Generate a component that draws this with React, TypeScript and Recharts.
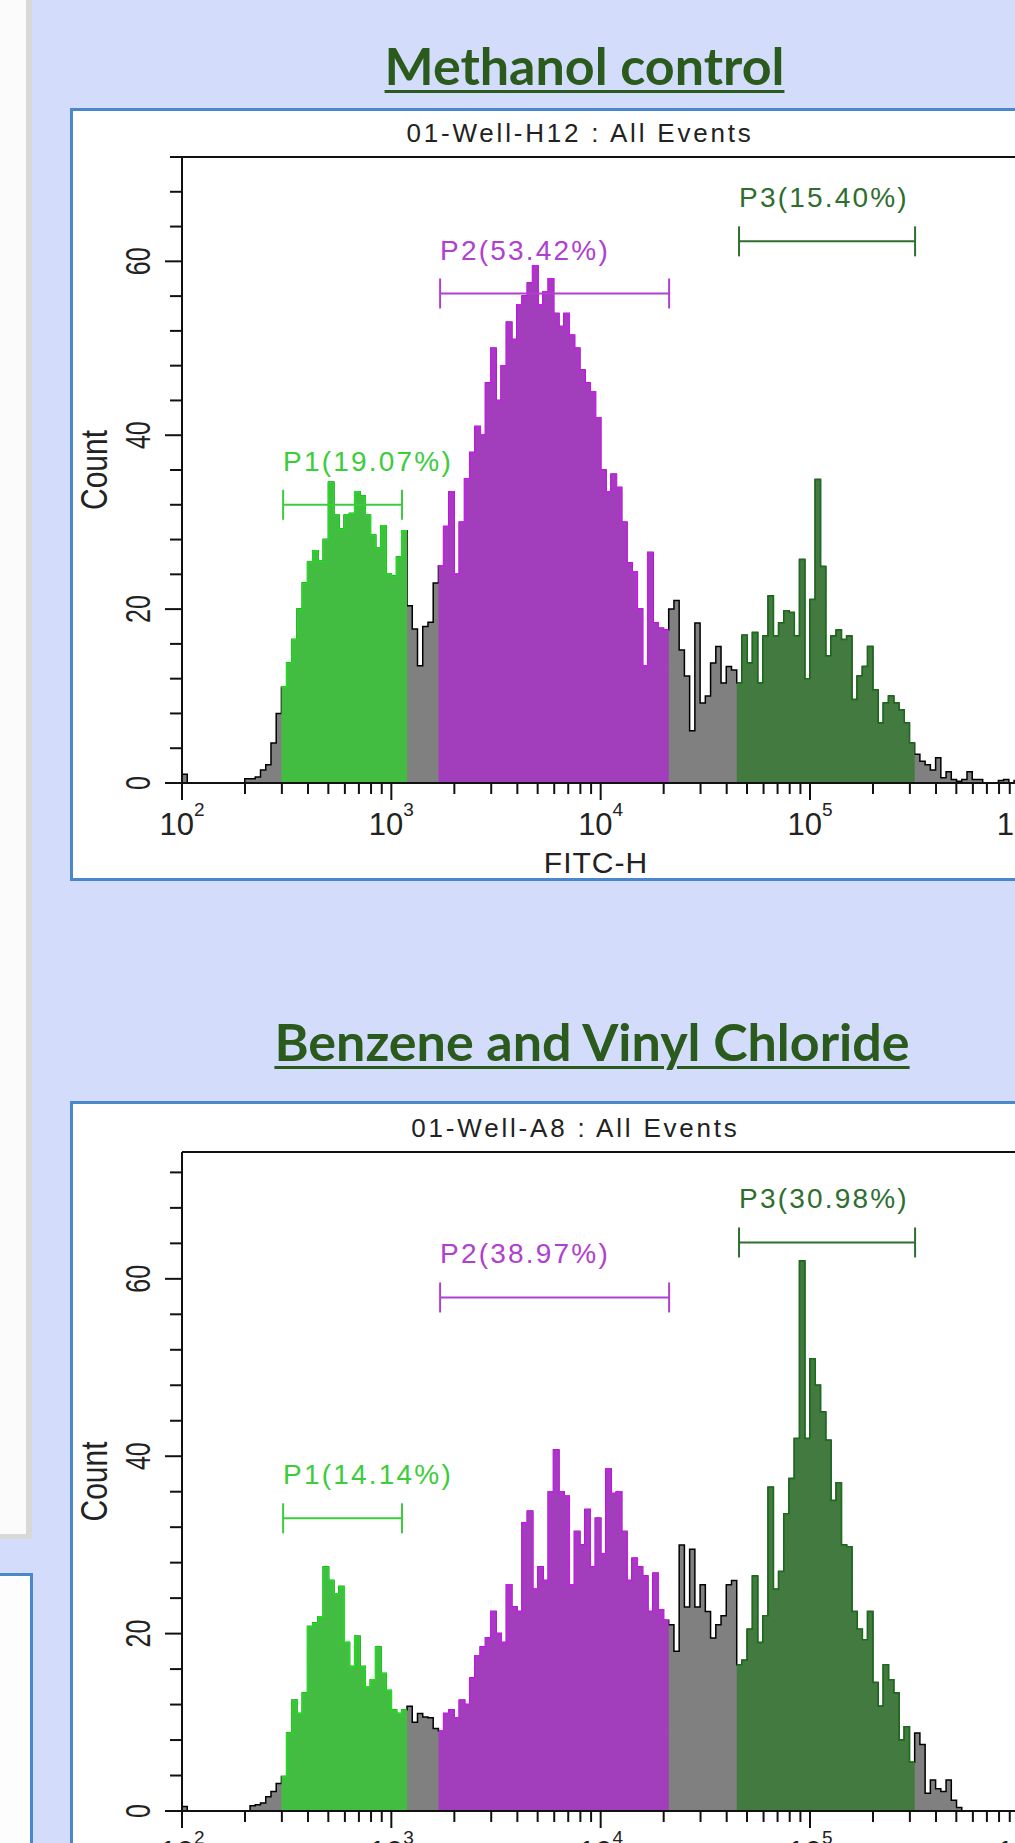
import React from "react";
import { ComposedChart, Area, XAxis, YAxis, ReferenceLine, Label } from "recharts";

// FITC-H histogram: bins of 0.025 decade, the first one starts at 10^2
const binStartLog = 2;
const binWidthLog = 0.025;

// counts per bin
const methanolCounts = [
  1, 0, 0, 0, 0, 0, 0, 0, 0, 0,
  0, 0, 0.5, 0.5, 0.7, 1.5, 2.1, 4.6, 8, 11,
  13.8, 16.5, 20, 23, 25.4, 26.7, 25.5, 28, 34.6, 30.8,
  29.2, 30.8, 31, 33.5, 33, 30.8, 28.5, 27, 29.6, 24,
  23.8, 26, 29, 20.4, 17.7, 13.5, 18, 18.5, 23, 25,
  29.5, 33.5, 24, 30, 35, 38, 41, 40, 46, 50,
  44, 48, 53, 51, 55, 56, 57.5, 59.5, 55, 56.5,
  58, 54, 52.5, 54, 51.5, 50, 47.5, 46, 45, 42,
  36, 33.5, 35.5, 34, 30, 25.3, 24.3, 20, 13.5, 26.5,
  18.4, 17.8, 17.6, 20, 21, 15.3, 12.3, 6, 18.4, 9.2,
  10, 13.8, 15.7, 11.5, 13.4, 13, 11.5, 17, 13.8, 17.3,
  11.5, 16.9, 21.5, 16.9, 18.4, 19.8, 19.6, 16.9, 25.7, 12,
  21.1, 34.9, 24.9, 14.6, 16.9, 17.6, 16.5, 16.9, 9.6, 12.3,
  13.4, 15.7, 10.7, 6.9, 9.2, 10, 9.2, 8.4, 6.9, 4.6,
  3.3, 2.5, 2.1, 1.5, 2.9, 0.6, 1.3, 0.4, 0.2, 0.4,
  1.3, 0.4, 0.4, 0, 0, 0, 0.3, 0.4, 0, 0.3,
];

const benzeneCounts = [
  0.5, 0, 0, 0, 0, 0, 0, 0, 0, 0,
  0, 0, 0, 0.6, 0.7, 0.9, 1.6, 2.2, 3.1, 3.9,
  8.8, 12.5, 11, 13.3, 20.8, 21.2, 21.9, 27.5, 26, 24.5,
  25.3, 19, 16.3, 19.7, 16.3, 14, 14.8, 18.5, 15.5, 13.6,
  11.4, 11, 11.4, 11.8, 10, 11, 10.6, 10.5, 9.3, 9,
  11, 11.4, 10.5, 12.5, 12, 15, 17.5, 18.5, 19.5, 22.5,
  20, 19, 25.5, 23, 22.5, 32.5, 33.8, 25, 27.5, 26,
  36, 40.7, 36, 35.5, 25.5, 31.5, 30, 34, 27.5, 33,
  29, 38.6, 35.8, 36, 31.5, 26, 28.5, 27.5, 26.5, 22.5,
  26.8, 22.7, 21.5, 21, 18, 30, 23, 29.5, 23, 25.5,
  22.5, 19.5, 21, 22, 25.5, 26, 16.5, 17, 20.5, 26.5,
  19, 22, 36.5, 25, 27, 33.5, 37.5, 42, 62, 42,
  51, 48, 45, 41.8, 35, 37, 30, 29.8, 22.5, 20.5,
  19.3, 22.5, 14.5, 11.8, 16.5, 14.8, 13.3, 8, 9.5, 5.5,
  8.8, 7.5, 2, 3.5, 2.5, 2.2, 3.5, 1.2, 0.4, 0,
  0, 0, 0, 0, 0, 0, 0, 0, 0, 0,
];

// gates
const gateNames = ["P1", "P2", "P3"];
const gateFirstBin = [19, 49, 106];
const gateLastBin = [42, 92, 139];
const gateFrom = [2.483, 3.233, 4.661]; // log10 FITC-H
const gateTo = [3.051, 4.327, 5.502];
const methanolPercents = ["19.07", "53.42", "15.40"];
const benzenePercents = ["14.14", "38.97", "30.98"];
const methanolGateLevel = [32, 56.3, 62.3];
const benzeneGateLevel = [33, 57.9, 64.1];

// axes
const decadeExponents = [2, 3, 4, 5, 6];
const countTicks = [0, 4, 8, 12, 16, 20, 24, 28, 32, 36, 40, 44, 48, 52, 56, 60, 64, 68, 72];
const countLabelTicks = [0, 20, 40, 60];

const gateFill = ["#42bd42", "#a23dbb", "#437a3f"];
const gateEdge = ["#1fe01f", "#cc1bef", "#1b6e1b"];
const gateText = ["#3ccc3c", "#b040d0", "#2e6e2e"];

const FONT = '"Liberation Sans", Arial, sans-serif';

const xTicks = decadeExponents.flatMap((d) =>
  d === 6 ? [6] : [1, 2, 3, 4, 5, 6, 7, 8, 9].map((m) => d + Math.log10(m))
);

function buildRows(counts: number[]) {
  const rows: any[] = counts.map((c, i) => ({ L: binStartLog + i * binWidthLog, all: c }));
  rows.push({ L: binStartLog + counts.length * binWidthLog, all: counts[counts.length - 1] });
  rows.forEach((row, i) => {
    gateNames.forEach((name, g) => {
      if (i >= gateFirstBin[g] && i <= gateLastBin[g]) row[name] = counts[i];
      else if (i === gateLastBin[g] + 1) row[name] = counts[gateLastBin[g]];
      else row[name] = null;
    });
  });
  return rows;
}

const DecadeTick = (props: any) => {
  const { x, y, payload } = props;
  const v = payload.value;
  const major = decadeExponents.some((d) => Math.abs(d - v) < 1e-6);
  return (
    <g>
      <line x1={x} x2={x} y1={y} y2={y + (major ? 17 : 11)} stroke="#111" strokeWidth={2} />
      {major && (
        <text x={x} y={y + 52} textAnchor="middle" fontSize={31} fontFamily={FONT} fill="#222">
          <tspan>10</tspan>
          <tspan dy={-19} fontSize={19}>{Math.round(v)}</tspan>
        </text>
      )}
    </g>
  );
};

const CountTick = (props: any) => {
  const { x, y, payload } = props;
  const v = payload.value;
  const major = countLabelTicks.includes(v);
  return (
    <g>
      <line x1={x - (major ? 17 : 12)} x2={x} y1={y} y2={y} stroke="#111" strokeWidth={2} />
      {major && (
        <text
          transform={`translate(${x - 32},${y}) rotate(-90) scale(1,1.4)`}
          textAnchor="middle"
          fontSize={25}
          fontFamily={FONT}
          fill="#222"
        >
          {v}
        </text>
      )}
    </g>
  );
};

const GateLabel = (props: any) => {
  const { viewBox, text, color } = props;
  if (!viewBox) return null;
  return (
    <text x={viewBox.x} y={viewBox.y - 34} fill={color} fontSize={28} fontFamily={FONT} style={{ letterSpacing: 2.2 }}>
      {text}
    </text>
  );
};

const CountLabel = (props: any) => {
  const vb = props.viewBox;
  const x = vb.x + vb.width - 75;
  const y = vb.y + vb.height / 2;
  return (
    <text transform={`translate(${x},${y}) rotate(-90) scale(1,1.2)`} textAnchor="middle" fontSize={30} fontFamily={FONT} fill="#222">
      Count
    </text>
  );
};

const FitcLabel = (props: any) => {
  const vb = props.viewBox;
  return (
    <text x={vb.x + 414} y={vb.y + 90} textAnchor="middle" fontSize={30} fontFamily={FONT} fill="#222" style={{ letterSpacing: 1 }}>
      FITC-H
    </text>
  );
};

type HistProps = {
  counts: number[];
  percents: string[];
  levels: number[];
  yMax: number;
  plotTop: number;
  plotHeight: number;
};

const FlowHistogram = ({ counts, percents, levels, yMax, plotTop, plotHeight }: HistProps) => {
  const rows = buildRows(counts);
  const width = 1140;
  const height = 157 + plotHeight + 30 + 90;
  const capHalf = (15 * yMax) / plotHeight;
  return (
    <div style={{ position: "absolute", left: 0, top: plotTop - 157, width, height }}>
      <ComposedChart width={width} height={height} data={rows} margin={{ top: 157, left: 162, right: 16, bottom: 90 }}>
        <XAxis
          type="number"
          dataKey="L"
          domain={[2, 6.5]}
          allowDataOverflow
          ticks={xTicks}
          interval={0}
          height={30}
          tickLine={false}
          tickSize={0}
          tickMargin={0}
          axisLine={{ stroke: "#111", strokeWidth: 2 }}
          tick={<DecadeTick />}
        >
          <Label content={FitcLabel} />
        </XAxis>
        <YAxis
          type="number"
          domain={[0, yMax]}
          allowDataOverflow
          ticks={countTicks}
          interval={0}
          width={20}
          tickLine={false}
          tickSize={0}
          tickMargin={0}
          axisLine={{ stroke: "#111", strokeWidth: 2 }}
          tick={<CountTick />}
        >
          <Label content={CountLabel} />
        </YAxis>
        <ReferenceLine y={yMax} stroke="#111" strokeWidth={2} ifOverflow="visible" />
        <Area
          type="stepAfter"
          dataKey="all"
          stroke="#000"
          strokeWidth={1.5}
          fill="#808080"
          fillOpacity={1}
          baseValue={0}
          dot={false}
          activeDot={false}
          isAnimationActive={false}
        />
        {gateNames.map((name, g) => (
          <Area
            key={name}
            type="stepAfter"
            dataKey={name}
            stroke={gateEdge[g]}
            strokeWidth={1.5}
            fill={gateFill[g]}
            fillOpacity={1}
            baseValue={0}
            connectNulls={false}
            dot={false}
            activeDot={false}
            isAnimationActive={false}
          />
        ))}
        {gateNames.map((name, g) => (
          <ReferenceLine
            key={name + "-bar"}
            segment={[{ x: gateFrom[g], y: levels[g] }, { x: gateTo[g], y: levels[g] }]}
            stroke={gateText[g]}
            strokeWidth={2}
            ifOverflow="visible"
            label={<GateLabel text={`${name}(${percents[g]}%)`} color={gateText[g]} />}
          />
        ))}
        {gateNames.map((name, g) => (
          <ReferenceLine
            key={name + "-left"}
            segment={[{ x: gateFrom[g], y: levels[g] - capHalf }, { x: gateFrom[g], y: levels[g] + capHalf }]}
            stroke={gateText[g]}
            strokeWidth={2}
            ifOverflow="visible"
          />
        ))}
        {gateNames.map((name, g) => (
          <ReferenceLine
            key={name + "-right"}
            segment={[{ x: gateTo[g], y: levels[g] - capHalf }, { x: gateTo[g], y: levels[g] + capHalf }]}
            stroke={gateText[g]}
            strokeWidth={2}
            ifOverflow="visible"
          />
        ))}
      </ComposedChart>
    </div>
  );
};

const slideTitle: React.CSSProperties = {
  position: "absolute",
  width: 1000,
  textAlign: "center",
  fontFamily: "Lato, sans-serif",
  fontWeight: 700,
  fontSize: 52,
  lineHeight: "52px",
  color: "#2a5a1c",
  textDecoration: "underline",
  textDecorationThickness: "3px",
  textUnderlineOffset: "5px",
  whiteSpace: "nowrap",
};

const frame: React.CSSProperties = {
  position: "absolute",
  left: 70,
  width: 1000,
  border: "3px solid #4a88cc",
  background: "#fff",
  boxSizing: "border-box",
};

export default function App() {
  return (
    <div
      style={{
        position: "fixed",
        left: 0,
        top: 0,
        width: 1015,
        height: 1843,
        overflow: "hidden",
        background: "#d3ddfb",
      }}
    >
      <div
        style={{
          position: "absolute",
          left: 0,
          top: 0,
          width: 26,
          height: 1534,
          background: "#fbfbfb",
          borderRight: "6px solid #d8d8d8",
          borderBottom: "5px solid #d8d8d8",
        }}
      />
      <div
        style={{
          position: "absolute",
          left: -10,
          top: 1573,
          width: 43,
          height: 400,
          background: "#fdfdfd",
          border: "3px solid #4a88cc",
          boxSizing: "border-box",
        }}
      />

      <div style={{ ...slideTitle, left: 84.5, top: 39 }}>Methanol control</div>
      <div style={{ ...frame, top: 108, height: 773 }} />

      <div style={{ ...slideTitle, left: 92, top: 1015 }}>Benzene and Vinyl Chloride</div>
      <div style={{ ...frame, top: 1101, height: 800 }} />

      <FlowHistogram
        counts={methanolCounts}
        percents={methanolPercents}
        levels={methanolGateLevel}
        yMax={72}
        plotTop={157}
        plotHeight={626}
      />
      <FlowHistogram
        counts={benzeneCounts}
        percents={benzenePercents}
        levels={benzeneGateLevel}
        yMax={74.3}
        plotTop={1152}
        plotHeight={659}
      />

      <svg width={1015} height={1843} style={{ position: "absolute", left: 0, top: 0, pointerEvents: "none" }}>
        <text x={580} y={142} textAnchor="middle" fontSize={26} fontFamily={FONT} fill="#222" style={{ letterSpacing: 2.8 }}>
          01-Well-H12 : All Events
        </text>
        <text x={575.5} y={1137} textAnchor="middle" fontSize={26} fontFamily={FONT} fill="#222" style={{ letterSpacing: 2.8 }}>
          01-Well-A8 : All Events
        </text>
      </svg>
    </div>
  );
}
